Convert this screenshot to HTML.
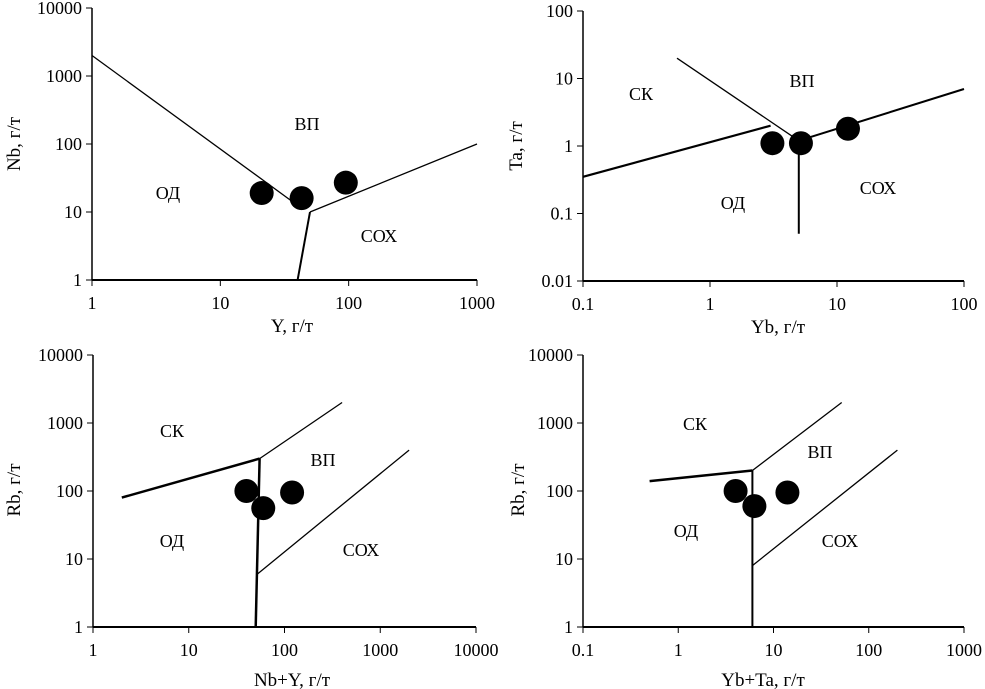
<!DOCTYPE html>
<html><head><meta charset="utf-8"><style>
html,body{margin:0;padding:0;background:#fff;}
svg{display:block;}
text{font-family:"Liberation Serif","DejaVu Serif",serif;fill:#000;}
</style></head><body>
<svg id="chart" width="985" height="689" viewBox="0 0 985 689" xmlns="http://www.w3.org/2000/svg"></svg>
<script>
// ---- Panel 1: Nb vs Y ----
const p1XTicks = [1, 10, 100, 1000];
const p1YTicks = [1, 10, 100, 1000, 10000];
const p1XTickLabels = ["1", "10", "100", "1000"];
const p1YTickLabels = ["1", "10", "100", "1000", "10000"];
const p1SampleX = [21, 43, 95];
const p1SampleY = [19, 16, 27];
const p1Boundaries = [
  {pts: [[1, 2000], [35, 15]], w: 1.3},
  {pts: [[50, 10], [1000, 100]], w: 1.3},
  {pts: [[40, 1], [50, 10]], w: 2}
];
const p1Fields = ["ВП", "ОД", "СОХ"];
const p1FieldPos = [[307, 124], [168, 193], [379, 236]];

// ---- Panel 2: Ta vs Yb ----
const p2XTicks = [0.1, 1, 10, 100];
const p2YTicks = [0.01, 0.1, 1, 10, 100];
const p2XTickLabels = ["0.1", "1", "10", "100"];
const p2YTickLabels = ["0.01", "0.1", "1", "10", "100"];
const p2SampleX = [3.1, 5.2, 12.2];
const p2SampleY = [1.1, 1.1, 1.8];
const p2Boundaries = [
  {pts: [[0.1, 0.35], [3, 2]], w: 2.2},
  {pts: [[0.55, 20], [5, 1.2]], w: 1.3},
  {pts: [[5, 1.2], [100, 7]], w: 2},
  {pts: [[5, 1.2], [5, 0.05]], w: 2}
];
const p2Fields = ["СК", "ВП", "ОД", "СОХ"];
const p2FieldPos = [[641, 94], [802, 81], [733, 203], [878, 188]];

// ---- Panel 3: Rb vs Nb+Y ----
const p3XTicks = [1, 10, 100, 1000, 10000];
const p3YTicks = [1, 10, 100, 1000, 10000];
const p3XTickLabels = ["1", "10", "100", "1000", "10000"];
const p3YTickLabels = ["1", "10", "100", "1000", "10000"];
const p3SampleX = [40, 60, 120];
const p3SampleY = [100, 56, 95];
const p3Boundaries = [
  {pts: [[2, 80], [55, 300]], w: 2.5},
  {pts: [[55, 300], [400, 2000]], w: 1.3},
  {pts: [[55, 300], [50, 1]], w: 2.5},
  {pts: [[52, 6], [2000, 400]], w: 1.3}
];
const p3Fields = ["СК", "ВП", "ОД", "СОХ"];
const p3FieldPos = [[172, 431], [323, 460], [172, 541], [361, 550]];

// ---- Panel 4: Rb vs Yb+Ta ----
const p4XTicks = [0.1, 1, 10, 100, 1000];
const p4YTicks = [1, 10, 100, 1000, 10000];
const p4XTickLabels = ["0.1", "1", "10", "100", "1000"];
const p4YTickLabels = ["1", "10", "100", "1000", "10000"];
const p4SampleX = [4, 6.3, 14];
const p4SampleY = [100, 60, 95];
const p4Boundaries = [
  {pts: [[0.5, 140], [6, 200]], w: 2.5},
  {pts: [[6, 200], [52, 2000]], w: 1.3},
  {pts: [[6, 200], [6, 1]], w: 2},
  {pts: [[6, 8], [200, 400]], w: 1.3}
];
const p4Fields = ["СК", "ВП", "ОД", "СОХ"];
const p4FieldPos = [[695, 424], [820, 452], [686, 531], [840, 541]];

const NS = "http://www.w3.org/2000/svg";
const svg = document.getElementById("chart");
function mk(tag, attrs, parent) {
  const e = document.createElementNS(NS, tag);
  for (const k in attrs) e.setAttribute(k, attrs[k]);
  (parent || svg).appendChild(e);
  return e;
}

function panel(cfg) {
  const g = mk("g", {});
  
  
  const lx0 = Math.log10(cfg.xTicks[0]), lx1 = Math.log10(cfg.xTicks[cfg.xTicks.length - 1]);
  const ly0 = Math.log10(cfg.yTicks[0]), ly1 = Math.log10(cfg.yTicks[cfg.yTicks.length - 1]);
  const sx = v => cfg.left + (Math.log10(v) - lx0) / (lx1 - lx0) * (cfg.right - cfg.left);
  const sy = v => cfg.bottom - (Math.log10(v) - ly0) / (ly1 - ly0) * (cfg.bottom - cfg.top);

  const yAxis = mk("line", {x1: cfg.left, y1: cfg.top, x2: cfg.left, y2: cfg.bottom, stroke: "#000", "stroke-width": 1.5}, g);
  
  
  const xAxis = mk("line", {x1: cfg.left, y1: cfg.bottom, x2: cfg.right, y2: cfg.bottom, stroke: "#000", "stroke-width": 2}, g);
  
  

  cfg.xTicks.forEach((t, i) => {
    const x = sx(t);
    mk("line", {x1: x, y1: cfg.bottom, x2: x, y2: cfg.bottom + 6, stroke: "#000", "stroke-width": 1}, g);
    const tl = mk("text", {x: x, y: cfg.bottom + 29, "text-anchor": "middle", "font-size": 18}, g);
    tl.textContent = cfg.xTickLabels[i];
    
    
  });
  cfg.yTicks.forEach((t, i) => {
    const y = sy(t);
    mk("line", {x1: cfg.left - 6, y1: y, x2: cfg.left, y2: y, stroke: "#000", "stroke-width": 1}, g);
    const tl = mk("text", {x: cfg.left - 10, y: y + 6, "text-anchor": "end", "font-size": 18}, g);
    tl.textContent = cfg.yTickLabels[i];
    
    
  });

  cfg.bounds.forEach(b => {
    const d = b.pts.map((p, j) => (j ? "L" : "M") + sx(p[0]).toFixed(1) + "," + sy(p[1]).toFixed(1)).join(" ");
    const pth = mk("path", {d: d, stroke: "#000", "stroke-width": b.w, fill: "none"}, g);
    
    
  });

  cfg.fields.forEach((f, i) => {
    const t = mk("text", {x: cfg.fieldPos[i][0], y: cfg.fieldPos[i][1] + 6, "text-anchor": "middle", "font-size": 18}, g);
    t.textContent = f;
    
    
  });

  cfg.px.forEach((v, i) => {
    const c = mk("circle", {cx: sx(v), cy: sy(cfg.py[i]), r: 12, fill: "#000"}, g);
    
    
  });

  const xt = mk("text", {x: cfg.xTitle[0], y: cfg.xTitle[1], "text-anchor": "middle", "font-size": 19}, g);
  xt.textContent = cfg.xLabel;
  
  
  const yt = mk("text", {x: 0, y: 0, "text-anchor": "middle", "font-size": 19,
    transform: "translate(" + cfg.yTitle[0] + "," + cfg.yTitle[1] + ") rotate(-90)"}, g);
  yt.textContent = cfg.yLabel;
  
  
}

panel({name: "nb-y-diagram", left: 92, right: 477, top: 8, bottom: 280,
  xTicks: p1XTicks, yTicks: p1YTicks, xTickLabels: p1XTickLabels, yTickLabels: p1YTickLabels,
  px: p1SampleX, py: p1SampleY, bounds: p1Boundaries, fields: p1Fields, fieldPos: p1FieldPos,
  xLabel: "Y, г/т", yLabel: "Nb, г/т", xTitle: [292, 332], yTitle: [20, 144]});
panel({name: "ta-yb-diagram", left: 583, right: 964, top: 11, bottom: 281,
  xTicks: p2XTicks, yTicks: p2YTicks, xTickLabels: p2XTickLabels, yTickLabels: p2YTickLabels,
  px: p2SampleX, py: p2SampleY, bounds: p2Boundaries, fields: p2Fields, fieldPos: p2FieldPos,
  xLabel: "Yb, г/т", yLabel: "Ta, г/т", xTitle: [778, 333], yTitle: [522, 146]});
panel({name: "rb-nby-diagram", left: 93, right: 476, top: 355, bottom: 627,
  xTicks: p3XTicks, yTicks: p3YTicks, xTickLabels: p3XTickLabels, yTickLabels: p3YTickLabels,
  px: p3SampleX, py: p3SampleY, bounds: p3Boundaries, fields: p3Fields, fieldPos: p3FieldPos,
  xLabel: "Nb+Y, г/т", yLabel: "Rb, г/т", xTitle: [292, 686], yTitle: [20, 490]});
panel({name: "rb-ybta-diagram", left: 583, right: 964, top: 355, bottom: 627,
  xTicks: p4XTicks, yTicks: p4YTicks, xTickLabels: p4XTickLabels, yTickLabels: p4YTickLabels,
  px: p4SampleX, py: p4SampleY, bounds: p4Boundaries, fields: p4Fields, fieldPos: p4FieldPos,
  xLabel: "Yb+Ta, г/т", yLabel: "Rb, г/т", xTitle: [763, 686], yTitle: [524, 490]});
</script>
</body></html>
